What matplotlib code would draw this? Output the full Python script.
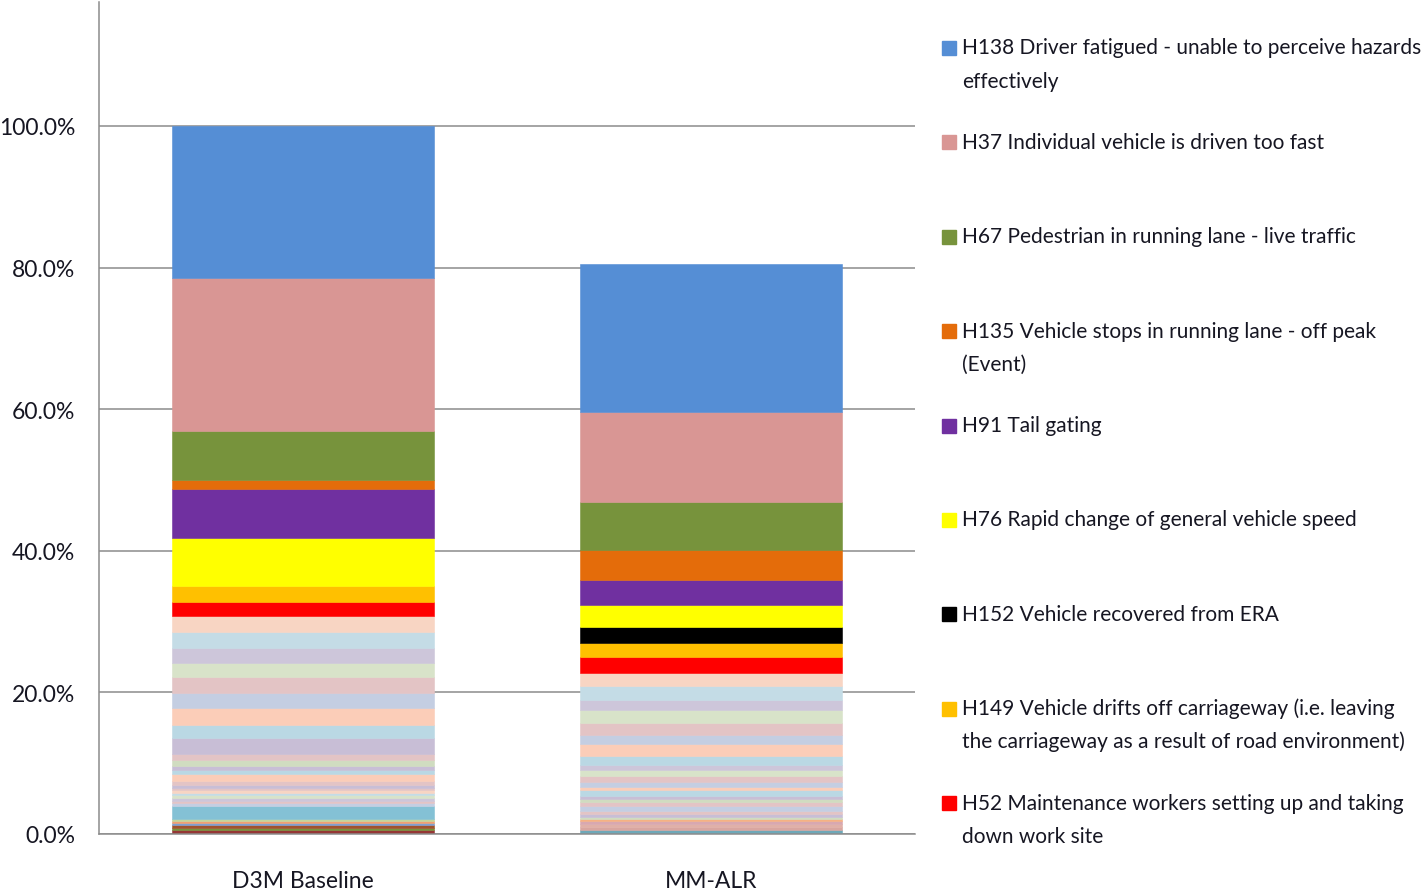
import matplotlib
matplotlib.use("Agg")
import matplotlib.pyplot as plt
from matplotlib.patches import Rectangle

plt.rcParams['font.family'] = ['Lato', 'DejaVu Sans']

categories = ["D3M Baseline", "MM-ALR"]

# named hazards, in legend order (top of the stack first)
hazards = [
    "H138 Driver fatigued - unable to perceive hazards\neffectively",
    "H37 Individual vehicle is driven too fast",
    "H67 Pedestrian in running lane - live traffic",
    "H135 Vehicle stops in running lane - off peak\n(Event)",
    "H91 Tail gating",
    "H76 Rapid change of general vehicle speed",
    "H152 Vehicle recovered from ERA",
    "H149 Vehicle drifts off carriageway (i.e. leaving\nthe carriageway as a result of road environment)",
    "H52 Maintenance workers setting up and taking\ndown work site",
]
d3m_named = [21.5, 21.6, 6.9, 1.3, 6.9, 6.8, 0.0, 2.2, 2.0]
mm_named = [20.9, 12.7, 6.8, 4.2, 3.5, 3.1, 2.3, 2.0, 2.3]
hazard_colors = ['#558ED5', '#D99694', '#77933C', '#E46C0A', '#7030A0',
                 '#FFFF00', '#000000', '#FFC000', '#FF0000']

# remaining minor hazards, bottom of the stack first
d3m_minor = [0.55, 0.35, 0.35, 0.3, 0.3, 0.2, 1.9,
             0.4, 0.35, 0.4, 0.35, 0.4, 0.3, 0.4, 0.4,
             0.6, 0.9, 0.6, 0.55, 0.85, 0.9,
             2.2, 1.9, 2.3, 2.1, 2.3, 2.0, 2.1, 2.3, 2.25]
d3m_minor_colors = ['#953735', '#77933C', '#A0522D', '#7F9FD0', '#F0A070', '#C3D69B', '#84C1D5',
                    '#C4CEE2', '#E3C4C5', '#CDC6DA', '#D8E3C9', '#C4DCE6', '#F8D5C3', '#E3C4C5', '#C8BED6',
                    '#E3C4C5', '#FBCDB8', '#BAD8E4', '#C8BED6', '#D0DCC0', '#E3C4C5',
                    '#C8BED6', '#BAD8E4', '#FBCDB8', '#C4CEE2', '#E3C4C5', '#D8E3C9', '#CDC6DA', '#C4DCE6', '#F8D5C3']

mm_minor = [0.6, 0.4, 0.4, 0.4, 0.35,
            0.3, 0.4, 0.45, 0.7, 0.55, 0.45, 0.3, 0.95, 0.4, 0.7, 0.8, 0.85, 0.7,
            1.3, 1.7, 1.3, 1.7, 1.8, 1.4, 2.0, 1.8]
mm_minor_colors = ['#6FA8B8', '#D9A6A0', '#E0B0A8', '#D8A8B0', '#F5B183',
                   '#D0DCC0', '#C8BED6', '#E3C4C5', '#C4CEE2', '#E3C4C5', '#D0DCC0', '#C8BED6', '#BAD8E4',
                   '#FBCDB8', '#C4CEE2', '#E3C4C5', '#D8E3C9', '#CDC6DA',
                   '#BAD8E4', '#FBCDB8', '#C4CEE2', '#E3C4C5', '#D8E3C9', '#CDC6DA', '#C4DCE6', '#F8D5C3']

fig = plt.figure(figsize=(14.23, 8.95), dpi=100)
ax = fig.add_axes([99 / 1423, 60 / 895, 816 / 1423, 832 / 895])

width = 0.64
stacks = [(d3m_minor, d3m_minor_colors, d3m_named), (mm_minor, mm_minor_colors, mm_named)]
for i, (minor, mcols, named) in enumerate(stacks):
    bottom = 0
    for v, c in zip(minor, mcols):
        ax.bar(i, v, width, bottom=bottom, color=c, edgecolor=c, linewidth=0.4)
        bottom += v
    for v, c in zip(named[::-1], hazard_colors[::-1]):
        if v > 0:
            ax.bar(i, v, width, bottom=bottom, color=c, edgecolor=c, linewidth=0.4)
        bottom += v

ax.set_xlim(-0.5, 1.5)
ax.set_ylim(0, 117.5)
ax.set_yticks([0, 20, 40, 60, 80, 100])
ax.set_yticklabels([f"{t:.1f}%" for t in [0, 20, 40, 60, 80, 100]])
ax.set_xticks([0, 1])
ax.set_xticklabels(categories)
ax.yaxis.grid(True, color='#8C8C8C', linewidth=1.1)
ax.set_axisbelow(True)
for s in ['top', 'right']:
    ax.spines[s].set_visible(False)
for s in ['left', 'bottom']:
    ax.spines[s].set_color('#8C8C8C')
    ax.spines[s].set_linewidth(1.1)
ax.tick_params(axis='both', length=0, labelsize=16.5, labelcolor='#161622')
ax.tick_params(axis='y', pad=17)
ax.tick_params(axis='x', pad=26)

# legend drawn at the right, as in the spreadsheet export
for i, (label, c) in enumerate(zip(hazards, hazard_colors)):
    yc = 47 + i * 94.4
    fig.patches.append(Rectangle((942 / 1423, 1 - (yc + 9) / 895), 14 / 1423, 14 / 895,
                                 transform=fig.transFigure, color=c))
    for j, line in enumerate(label.split("\n")):
        fig.text(962 / 1423, 1 - (yc + 7.5 + j * 33) / 895, line, fontsize=15,
                 va='baseline', ha='left', color='#161622')

fig.savefig("out.png", dpi=100)
